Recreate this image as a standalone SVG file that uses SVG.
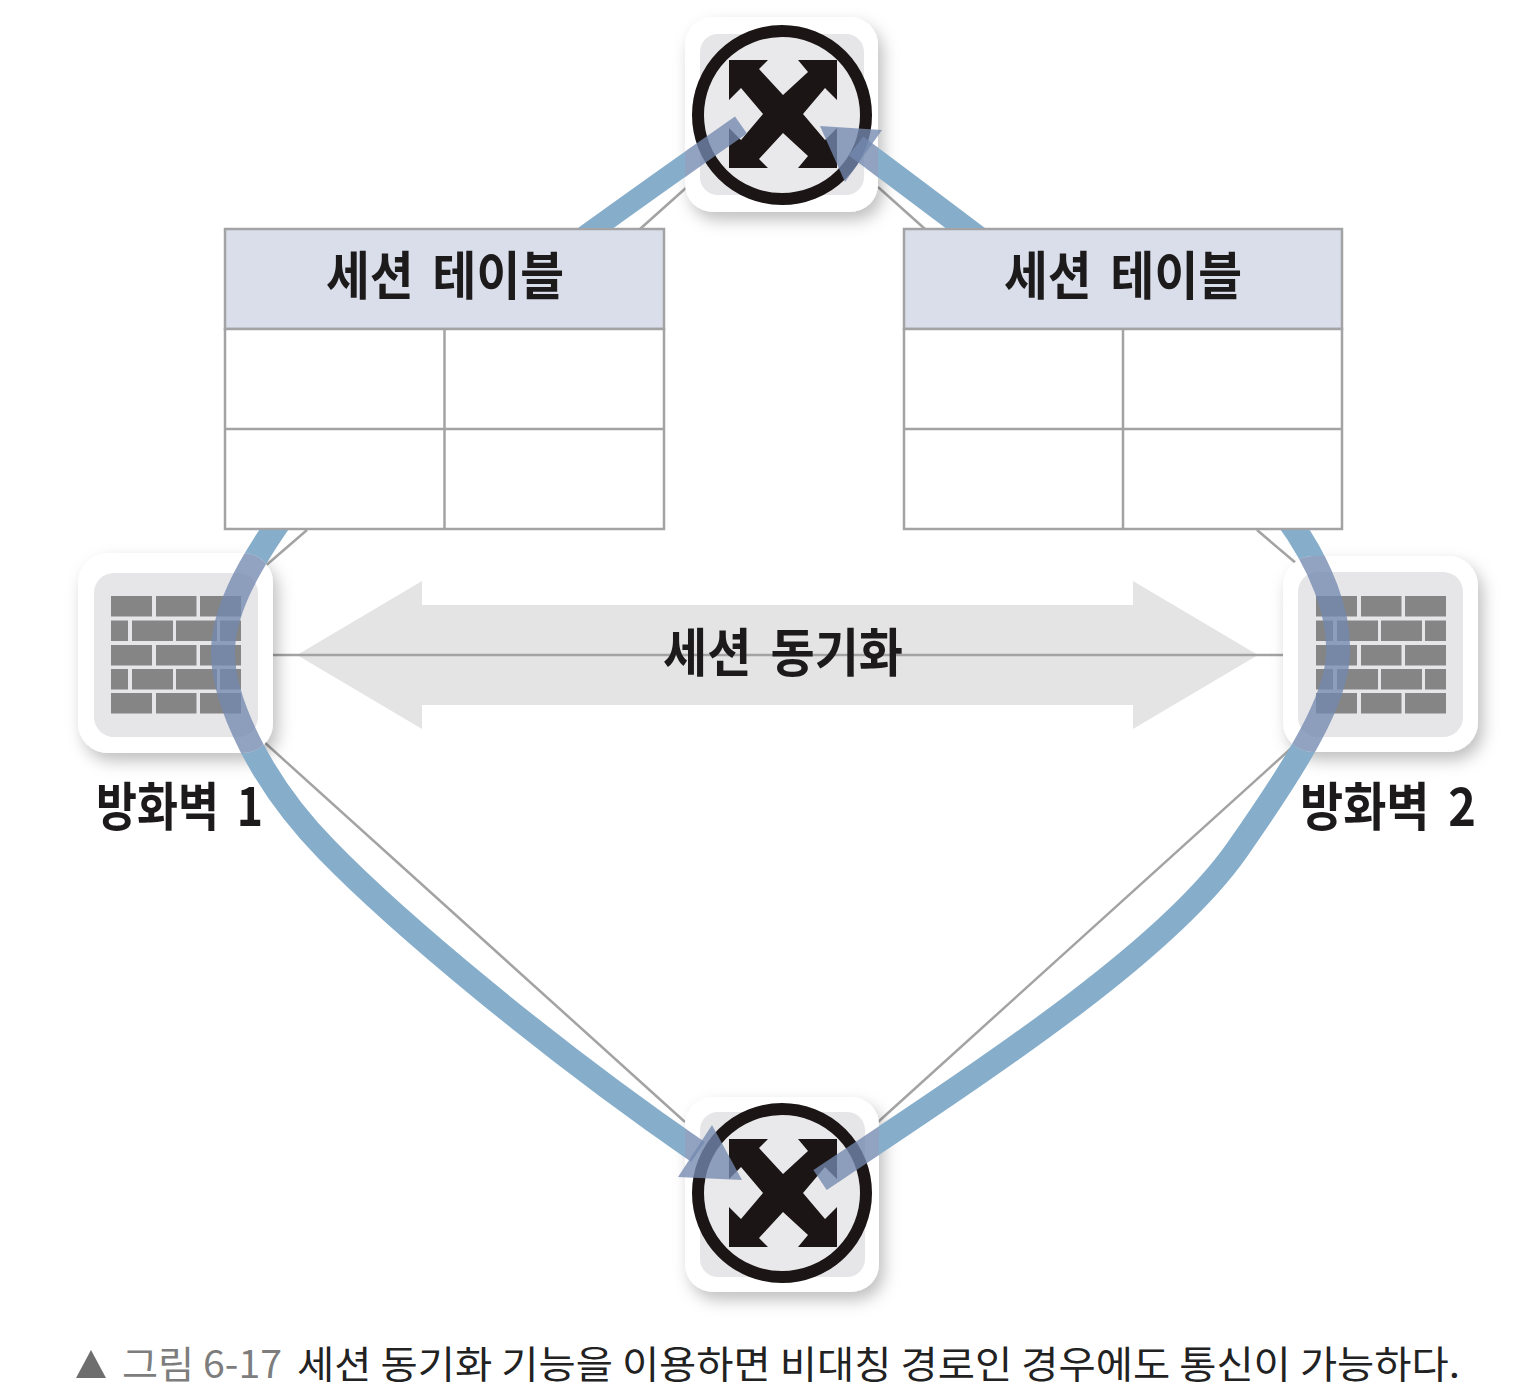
<svg xmlns="http://www.w3.org/2000/svg" width="1530" height="1398" viewBox="0 0 1530 1398">
<style>
.plate{fill:#fff;filter:url(#sh)}
.inner{fill:#e6e6e9}
.ring{fill:#e9e9eb;stroke:#1c1515;stroke-width:12}
.xmark{fill:#1c1515}
.brick{fill:#858585}
.tbl{fill:#fff;stroke:#a3a3a5;stroke-width:2.5}
.hdr{fill:#d9deea;stroke:#a3a3a5;stroke-width:2.5}
.gl{stroke:#a3a3a3;stroke-width:2.5;fill:none}
.lbl{font-family:"Noto Sans CJK KR","Noto Sans",sans-serif;font-weight:700;font-size:52px;fill:#1c1a1a;word-spacing:9px}
.cap{font-family:"Noto Sans CJK KR","Noto Sans",sans-serif;font-size:38px;fill:#222}
.capg{fill:#7d7d7d}
.band{fill:none;stroke-linecap:butt}
</style>
<defs>
<filter id="sh" x="-20%" y="-20%" width="145%" height="145%"><feDropShadow dx="5" dy="8" stdDeviation="8" flood-color="#000" flood-opacity=".25"/></filter>
<g id="xm"><polygon class="xmark" points="-54,-54 -15,-54 -24,-45 0,-19 25,-42 15,-54 54,-54 54,-14 42,-26 20,0 42,26 54,14 54,54 15,54 25,42 0,19 -24,45 -15,54 -54,54 -54,14 -42,26 -20,0 -42,-26 -54,-14"/></g>
<g id="wall">
<rect class="brick" x="0" y="0" width="41" height="20.5"/><rect class="brick" x="45" y="0" width="40.5" height="20.5"/><rect class="brick" x="89" y="0" width="41" height="20.5"/>
<rect class="brick" x="0" y="24.5" width="17" height="20.5"/><rect class="brick" x="21" y="24.5" width="41" height="20.5"/><rect class="brick" x="65" y="24.5" width="41" height="20.5"/><rect class="brick" x="109" y="24.5" width="21" height="20.5"/>
<rect class="brick" x="0" y="49" width="41" height="20.5"/><rect class="brick" x="45" y="49" width="40.5" height="20.5"/><rect class="brick" x="89" y="49" width="41" height="20.5"/>
<rect class="brick" x="0" y="73" width="17" height="20.5"/><rect class="brick" x="21" y="73" width="41" height="20.5"/><rect class="brick" x="65" y="73" width="41" height="20.5"/><rect class="brick" x="109" y="73" width="21" height="20.5"/>
<rect class="brick" x="0" y="97" width="41" height="20.5"/><rect class="brick" x="45" y="97" width="40.5" height="20.5"/><rect class="brick" x="89" y="97" width="41" height="20.5"/>
</g>
<g id="nodeRects">
<rect x="685" y="17" width="193" height="195" rx="28"/>
<rect x="685" y="1097" width="194" height="195" rx="28"/>
<rect x="78" y="553" width="195" height="200" rx="30"/>
<rect x="1283" y="556" width="195" height="196" rx="30"/>
</g>
<clipPath id="inNodes">
<rect x="685" y="17" width="193" height="195" rx="28"/>
<rect x="685" y="1097" width="194" height="195" rx="28"/>
<rect x="78" y="553" width="195" height="200" rx="30"/>
<rect x="1283" y="556" width="195" height="196" rx="30"/>
</clipPath>
<mask id="outNodes" maskUnits="userSpaceOnUse" x="0" y="0" width="1530" height="1398"><rect width="1530" height="1398" fill="#fff"/><use href="#nodeRects" fill="#000"/><rect x="224" y="228" width="441" height="302" fill="#000"/><rect x="903" y="228" width="440" height="302" fill="#000"/></mask>
<g id="bands">
<path class="band" stroke-width="21" d="M575,243 Q665,178 741,125"/>
<path class="band" stroke-width="24" d="M985,243 Q915,190 856,146"/>
<path class="band" stroke-width="24" d="M284,515 C245,570 222,615 223,655 C224,700 258,780 327,850 C400,925 550,1050 698,1152"/>
<path class="band" stroke-width="24" d="M1285,515 C1322,565 1340,615 1338,655 C1336,700 1300,760 1237,850 C1167,950 1000,1060 820,1180"/>
</g>
</defs>
<rect width="1530" height="1398" fill="#fff"/>
<polygon id="sync-arrow" fill="#e4e4e4" points="297,655 422,581 422,605 1133,605 1133,581 1258,655 1133,729 1133,705 422,705 422,729"/>
<g id="links" class="gl">
<line x1="687" y1="187" x2="640" y2="229"/>
<line x1="878" y1="187" x2="925" y2="229"/>
<line x1="263" y1="568" x2="307" y2="530"/>
<line x1="263" y1="741" x2="685" y2="1122"/>
<line x1="1257" y1="530" x2="1297" y2="564"/>
<line x1="1297" y1="743" x2="878" y2="1122"/>
<line x1="273" y1="655" x2="1283" y2="655"/>
</g>
<g id="router-top">
<rect class="plate" x="685" y="17" width="193" height="195" rx="28"/>
<rect class="inner" x="700" y="34" width="164" height="161" rx="18"/>
<circle class="ring" cx="782" cy="115" r="84"/>
<use href="#xm" x="783" y="114"/>
</g>
<g id="router-bottom">
<rect class="plate" x="685" y="1097" width="194" height="195" rx="28"/>
<rect class="inner" x="700" y="1112" width="165" height="165" rx="18"/>
<circle class="ring" cx="782" cy="1193" r="84"/>
<use href="#xm" x="783" y="1193"/>
</g>
<g id="firewall-1">
<rect class="plate" x="78" y="553" width="195" height="200" rx="30"/>
<rect class="inner" x="94" y="573" width="164" height="164" rx="20"/>
<use href="#wall" x="111" y="596"/>
<text class="lbl" x="96" y="826" textLength="167" lengthAdjust="spacingAndGlyphs">방화벽 1</text>
</g>
<g id="firewall-2">
<rect class="plate" x="1283" y="556" width="195" height="196" rx="30"/>
<rect class="inner" x="1298" y="572" width="165" height="165" rx="20"/>
<use href="#wall" x="1316" y="596"/>
<text class="lbl" x="1300" y="826" textLength="176" lengthAdjust="spacingAndGlyphs">방화벽 2</text>
</g>
<g id="table-left">
<rect class="hdr" x="225" y="229" width="439" height="100"/>
<rect class="tbl" x="225" y="329" width="439" height="200"/>
<line class="gl" x1="225" y1="429" x2="664" y2="429"/>
<line class="gl" x1="444.500" y1="329" x2="444.500" y2="529"/>
<text class="lbl" x="326" y="295" textLength="238" lengthAdjust="spacingAndGlyphs">세션 테이블</text>
</g>
<g id="table-right">
<rect class="hdr" x="904" y="229" width="438" height="100"/>
<rect class="tbl" x="904" y="329" width="438" height="200"/>
<line class="gl" x1="904" y1="429" x2="1342" y2="429"/>
<line class="gl" x1="1123" y1="329" x2="1123" y2="529"/>
<text class="lbl" x="1004" y="295" textLength="238" lengthAdjust="spacingAndGlyphs">세션 테이블</text>
</g>
<text id="sync-label" class="lbl" x="663" y="672" textLength="240" lengthAdjust="spacingAndGlyphs">세션 동기화</text>
<g id="connectors">
<use href="#bands" stroke="#86aecb" mask="url(#outNodes)"/>
<g clip-path="url(#inNodes)" opacity=".78">
<use href="#bands" stroke="#7389b0"/>
</g>
<g opacity=".78" fill="#7389b0">
<polygon points="742,1180 712,1125 678,1177"/>
<polygon points="820,126 882,130 845,182"/>
</g>
</g>
<g id="caption">
<polygon fill="#6e6e6e" points="76,1378 91,1350 106,1378"/>
<text class="cap capg" x="122" y="1378" textLength="160" lengthAdjust="spacingAndGlyphs">그림 6-17</text>
<text class="cap" x="297" y="1378" textLength="1163" lengthAdjust="spacingAndGlyphs">세션 동기화 기능을 이용하면 비대칭 경로인 경우에도 통신이 가능하다.</text>
</g>
</svg>
